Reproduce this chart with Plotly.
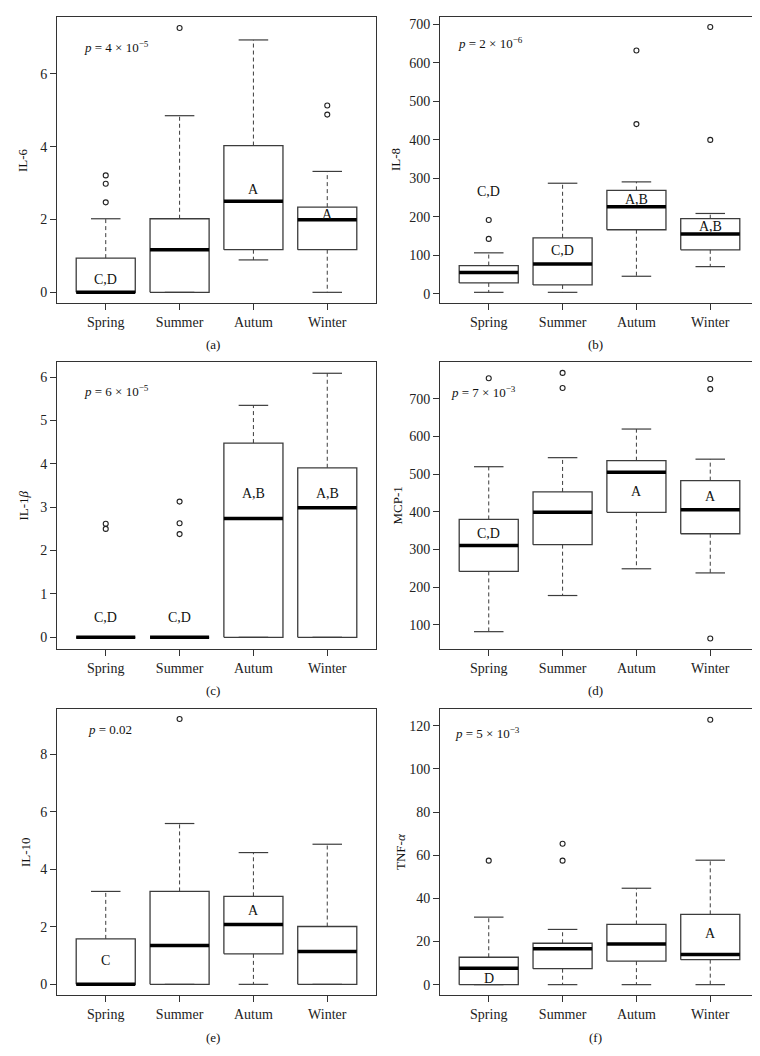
import plotly.graph_objects as go

seasons = ["Spring", "Summer", "Autum", "Winter"]

# (a) IL-6
il6_q1 = [0, 0, 1.17, 1.17]
il6_med = [0, 1.17, 2.5, 1.99]
il6_q3 = [0.94, 2.02, 4.03, 2.34]
il6_lo = [0, 0, 0.89, 0]
il6_hi = [2.02, 4.85, 6.93, 3.32]
il6_out = [[2.47, 2.98, 3.21], [7.26], [], [4.88, 5.13]]
il6_letters = ["C,D", "", "A", "A"]
il6_letter_y = [0.34, None, 2.82, 2.15]

# (b) IL-8
il8_q1 = [28.7, 23.4, 166.8, 114.6]
il8_med = [55.6, 78, 226.7, 156]
il8_q3 = [73.8, 145.9, 269, 195.4]
il8_lo = [4.3, 4.3, 46, 71]
il8_hi = [106.8, 287.5, 291, 209]
il8_out = [[143, 192], [], [441, 632], [400, 693]]
il8_letters = ["C,D", "C,D", "A,B", "A,B"]
il8_letter_y = [265, 112, 246, 175]

# (c) IL-1beta
il1b_q1 = [0, 0, 0, 0]
il1b_med = [0, 0, 2.74, 2.99]
il1b_q3 = [0, 0, 4.48, 3.91]
il1b_lo = [0, 0, 0, 0]
il1b_hi = [0, 0, 5.35, 6.09]
il1b_out = [[2.5, 2.62], [2.38, 2.63, 3.13], [], []]
il1b_letters = ["C,D", "C,D", "A,B", "A,B"]
il1b_letter_y = [0.46, 0.46, 3.31, 3.31]

# (d) MCP-1
mcp_q1 = [242, 313, 399, 342]
mcp_med = [311, 399, 505, 406]
mcp_q3 = [380, 453, 536, 483]
mcp_lo = [82, 178, 249, 238]
mcp_hi = [520, 544, 620, 540]
mcp_out = [[755], [729, 769], [], [64, 726, 753]]
mcp_letters = ["C,D", "", "A", "A"]
mcp_letter_y = [343, None, 454, 442]

# (e) IL-10
il10_q1 = [0, 0, 1.06, 0]
il10_med = [0, 1.35, 2.08, 1.14]
il10_q3 = [1.58, 3.23, 3.06, 2.01]
il10_lo = [0, 0, 0, 0]
il10_hi = [3.23, 5.59, 4.58, 4.87]
il10_out = [[], [9.22], [], []]
il10_letters = ["C", "", "A", ""]
il10_letter_y = [0.83, None, 2.55, None]

# (f) TNF-alpha
tnf_q1 = [0, 7.4, 10.9, 11.6]
tnf_med = [7.6, 16.7, 18.9, 14]
tnf_q3 = [12.7, 19.2, 27.9, 32.6]
tnf_lo = [0, 0, 0, 0]
tnf_hi = [31.3, 25.6, 44.7, 57.7]
tnf_out = [[57.5], [57.5, 65.3], [], [122.8]]
tnf_letters = ["", "", "", "A"]
tnf_letter_y = [None, None, None, 23.6]
tnf_letters2 = ["D", "", "", ""]
tnf_letter2_y = [2.9, None, None, None]

panels = [
    dict(name="IL-6", q1=il6_q1, med=il6_med, q3=il6_q3, lo=il6_lo, hi=il6_hi, out=il6_out,
         letters=il6_letters, ly=il6_letter_y, p="<i>p</i> = 4 × 10<sup>−5</sup>", py=6.75,
         yrange=[-0.293, 7.56], tickvals=[0, 2, 4, 6], cap="(a)"),
    dict(name="IL-8", q1=il8_q1, med=il8_med, q3=il8_q3, lo=il8_lo, hi=il8_hi, out=il8_out,
         letters=il8_letters, ly=il8_letter_y, p="<i>p</i> = 2 × 10<sup>−6</sup>", py=651,
         yrange=[-23.4, 719], tickvals=[0, 100, 200, 300, 400, 500, 600, 700], cap="(b)"),
    dict(name="IL-1<i>β</i>", q1=il1b_q1, med=il1b_med, q3=il1b_q3, lo=il1b_lo, hi=il1b_hi, out=il1b_out,
         letters=il1b_letters, ly=il1b_letter_y, p="<i>p</i> = 6 × 10<sup>−5</sup>", py=5.69,
         yrange=[-0.27, 6.35], tickvals=[0, 1, 2, 3, 4, 5, 6], cap="(c)"),
    dict(name="MCP-1", q1=mcp_q1, med=mcp_med, q3=mcp_q3, lo=mcp_lo, hi=mcp_hi, out=mcp_out,
         letters=mcp_letters, ly=mcp_letter_y, p="<i>p</i> = 7 × 10<sup>−3</sup>", py=718,
         yrange=[36, 798], tickvals=[100, 200, 300, 400, 500, 600, 700], cap="(d)"),
    dict(name="IL-10", q1=il10_q1, med=il10_med, q3=il10_q3, lo=il10_lo, hi=il10_hi, out=il10_out,
         letters=il10_letters, ly=il10_letter_y, p="<i>p</i> = 0.02", py=8.85,
         yrange=[-0.37, 9.57], tickvals=[0, 2, 4, 6, 8], cap="(e)"),
    dict(name="TNF-<i>α</i>", q1=tnf_q1, med=tnf_med, q3=tnf_q3, lo=tnf_lo, hi=tnf_hi, out=tnf_out,
         letters=tnf_letters, ly=tnf_letter_y, p="<i>p</i> = 5 × 10<sup>−3</sup>", py=116.9,
         yrange=[-4.8, 127.8], tickvals=[0, 20, 40, 60, 80, 100, 120], cap="(f)"),
]
panels[5]["letters_extra"] = (tnf_letters2, tnf_letter2_y)

W, H = 760, 1056
col_px = [(49, 368), (432, 751)]
row_px = [(9, 295), (354, 641), (701, 987)]
p_x_px = [74, 448, 74, 441, 78, 445]
title_x_px = [15, 388, 15, 389, 17, 392]
cap_y_px = [337, 337, 682, 682, 1029, 1029]

FONT = "Liberation Serif, Times New Roman, serif"
BOXCOL = "#3c3c3c"
HALF = 0.4
CAPH = 0.2
XR = [0.34, 4.66]

fig = go.Figure()
layout = dict(width=W, height=H, margin=dict(l=0, r=0, t=0, b=0),
              paper_bgcolor="white", plot_bgcolor="white", showlegend=False,
              font=dict(family=FONT, size=13, color="#222"))
annotations = []

for k, pn in enumerate(panels):
    r, c = k // 2, k % 2
    ax = "" if k == 0 else str(k + 1)
    xa, ya = "x" + ax, "y" + ax
    x0, x1 = col_px[c]
    y0, y1 = row_px[r]
    xs = [1, 2, 3, 4]

    bx, by = [], []
    for i, x in enumerate(xs):
        bx += [x - HALF, x + HALF, x + HALF, x - HALF, x - HALF, None]
        by += [pn["q1"][i], pn["q1"][i], pn["q3"][i], pn["q3"][i], pn["q1"][i], None]
    wx, wy = [], []
    for i, x in enumerate(xs):
        if pn["hi"][i] > pn["q3"][i]:
            wx += [x, x, None]
            wy += [pn["q3"][i], pn["hi"][i], None]
        if pn["lo"][i] < pn["q1"][i]:
            wx += [x, x, None]
            wy += [pn["q1"][i], pn["lo"][i], None]
    cx, cy = [], []
    for i, x in enumerate(xs):
        if pn["hi"][i] > 0 or pn["q3"][i] > 0:
            for v in (pn["lo"][i], pn["hi"][i]):
                cx += [x - CAPH, x + CAPH, None]
                cy += [v, v, None]
    mx, my = [], []
    for i, x in enumerate(xs):
        mx += [x - HALF, x + HALF, None]
        my += [pn["med"][i], pn["med"][i], None]
    ox, oy = [], []
    for i, x in enumerate(xs):
        for v in pn["out"][i]:
            ox.append(x)
            oy.append(v)

    fig.add_trace(go.Scatter(x=wx, y=wy, mode="lines", xaxis=xa, yaxis=ya,
                             line=dict(color=BOXCOL, width=1, dash="4px,3px"), hoverinfo="skip"))
    fig.add_trace(go.Scatter(x=cx, y=cy, mode="lines", xaxis=xa, yaxis=ya,
                             line=dict(color=BOXCOL, width=1.2), hoverinfo="skip"))
    fig.add_trace(go.Scatter(x=bx, y=by, mode="lines", xaxis=xa, yaxis=ya,
                             line=dict(color=BOXCOL, width=1.3), hoverinfo="skip"))
    fig.add_trace(go.Scatter(x=mx, y=my, mode="lines", xaxis=xa, yaxis=ya,
                             line=dict(color="black", width=3.5), hoverinfo="skip"))
    fig.add_trace(go.Scatter(x=ox, y=oy, mode="markers", xaxis=xa, yaxis=ya,
                             marker=dict(symbol="circle-open", size=5, color="#222",
                                         line=dict(width=1.1, color="#222")), hoverinfo="skip"))

    letter_sets = [(pn["letters"], pn["ly"])]
    if "letters_extra" in pn:
        letter_sets.append(pn["letters_extra"])
    for labels, ys in letter_sets:
        for i, (t, yv) in enumerate(zip(labels, ys)):
            if t and yv is not None:
                annotations.append(dict(x=xs[i], y=yv, xref=xa, yref=ya, text=t, showarrow=False,
                                        font=dict(family=FONT, size=14, color="#111"),
                                        xanchor="center", yanchor="middle"))
    px_data = XR[0] + (p_x_px[k] - x0) / ((x1 - x0) / (XR[1] - XR[0]))
    annotations.append(dict(x=px_data, y=pn["py"], xref=xa, yref=ya, text=pn["p"], showarrow=False,
                            font=dict(family=FONT, size=13, color="#111"),
                            xanchor="left", yanchor="middle"))
    annotations.append(dict(x=title_x_px[k] / W, y=1 - (y0 + y1) / 2 / H, xref="paper", yref="paper",
                            text=pn["name"], textangle=-90, showarrow=False,
                            font=dict(family=FONT, size=13, color="#111"),
                            xanchor="center", yanchor="middle"))
    annotations.append(dict(x=(x0 + x1) / 2 / W - 0.005, y=1 - cap_y_px[k] / H,
                            xref="paper", yref="paper", text=pn["cap"], showarrow=False,
                            font=dict(family=FONT, size=13, color="#111"),
                            xanchor="center", yanchor="middle"))

    axis_common = dict(showline=True, mirror=True, linecolor="#333", linewidth=1,
                       ticks="outside", ticklen=6, tickcolor="#333", tickwidth=1,
                       showgrid=False, zeroline=False,
                       tickfont=dict(family=FONT, size=14, color="#222"))
    layout["xaxis" + ax] = dict(domain=[x0 / W, x1 / W], range=XR, anchor=ya,
                                tickvals=xs, ticktext=seasons, **axis_common)
    layout["yaxis" + ax] = dict(domain=[1 - y1 / H, 1 - y0 / H], range=pn["yrange"], anchor=xa,
                                tickvals=pn["tickvals"], **axis_common)

layout["annotations"] = annotations
fig.update_layout(**layout)
fig.write_html("out.html")
